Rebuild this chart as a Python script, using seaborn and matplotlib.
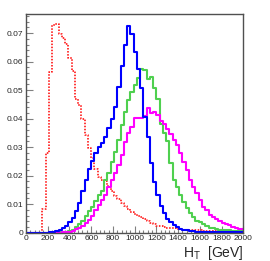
import numpy as np
import pandas as pd
import matplotlib
matplotlib.use("Agg")
import matplotlib.pyplot as plt
import seaborn as sns
from matplotlib.ticker import MultipleLocator, FuncFormatter

# Binned H_T distributions (30 GeV bins, lower edges), normalised to unit area
ht_low = np.arange(0, 2000, 30)

red_dotted = [
    0, 0, 0, 0, 0, 0.0082, 0.0279, 0.0563, 0.0728, 0.0733,
    0.0697, 0.0682, 0.0663, 0.0612, 0.0567, 0.0469, 0.0448, 0.0398, 0.0343, 0.0296,
    0.0262, 0.0222, 0.0195, 0.0185, 0.0180, 0.0165, 0.0145, 0.0130, 0.0118, 0.0103,
    0.0092, 0.0082, 0.0072, 0.0066, 0.0058, 0.0054, 0.0047, 0.0042, 0.0035, 0.0030,
    0.0025, 0.0023, 0.0020, 0.0017, 0.0016, 0.0015, 0.0013, 0.0012, 0.0011, 0.0010,
    0.0010, 0.0009, 0.0008, 0.0008, 0.0007, 0.0007, 0.0007, 0.0006, 0.0006, 0.0006,
    0.0005, 0.0005, 0.0005, 0.0005, 0.0004, 0.0004, 0.0004,
]
blue = [
    0, 0, 0, 0, 0, 0, 0, 0.0001, 0.0003, 0.0006,
    0.0010, 0.0015, 0.0024, 0.0036, 0.0052, 0.0075, 0.0105, 0.0145, 0.0185, 0.0224,
    0.0252, 0.0279, 0.0300, 0.0315, 0.0335, 0.0366, 0.0398, 0.0442, 0.0512, 0.0585,
    0.0659, 0.0726, 0.0696, 0.0635, 0.0573, 0.0507, 0.0407, 0.0335, 0.0246, 0.0179,
    0.0132, 0.0094, 0.0070, 0.0048, 0.0037, 0.0026, 0.0019, 0.0014, 0.0011, 0.0009,
    0.0007, 0.0005, 0.0004, 0.0003, 0.0003, 0.0002, 0.0002, 0.0002, 0.0001, 0.0001,
    0.0001, 0.0001, 0.0001, 0.0001, 0.0001, 0.0001, 0.0001,
]
green = [
    0, 0, 0, 0, 0, 0, 0, 0, 0, 0,
    0.0001, 0.0001, 0.0003, 0.0006, 0.0011, 0.0020, 0.0030, 0.0042, 0.0058, 0.0075,
    0.0090, 0.0112, 0.0132, 0.0148, 0.0185, 0.0208, 0.0249, 0.0284, 0.0325, 0.0378,
    0.0425, 0.0466, 0.0495, 0.0518, 0.0542, 0.0574, 0.0570, 0.0540, 0.0547, 0.0508,
    0.0468, 0.0380, 0.0349, 0.0320, 0.0245, 0.0185, 0.0161, 0.0132, 0.0109, 0.0086,
    0.0068, 0.0054, 0.0042, 0.0036, 0.0030, 0.0023, 0.0018, 0.0015, 0.0013, 0.0011,
    0.0010, 0.0009, 0.0008, 0.0007, 0.0006, 0.0006, 0.0005,
]
magenta = [
    0, 0, 0, 0, 0, 0, 0, 0, 0, 0,
    0, 0.0001, 0.0002, 0.0004, 0.0007, 0.0012, 0.0018, 0.0025, 0.0033, 0.0045,
    0.0060, 0.0078, 0.0097, 0.0115, 0.0132, 0.0161, 0.0185, 0.0208, 0.0238, 0.0273,
    0.0319, 0.0349, 0.0372, 0.0401, 0.0401, 0.0401, 0.0410, 0.0437, 0.0420, 0.0425,
    0.0413, 0.0392, 0.0380, 0.0362, 0.0345, 0.0325, 0.0308, 0.0279, 0.0249, 0.0220,
    0.0185, 0.0161, 0.0138, 0.0115, 0.0091, 0.0080, 0.0062, 0.0054, 0.0047, 0.0042,
    0.0033, 0.0030, 0.0027, 0.0019, 0.0016, 0.0013, 0.0012,
]

series = [
    (red_dotted, "#ff0000", (0, (1, 1)), 1.1),
    (green, "#4fd04f", "-", 1.5),
    (magenta, "#ff00ff", "-", 1.5),
    (blue, "#0000ff", "-", 1.5),
]

sns.set_style("ticks")
plt.rcParams["font.family"] = ["Liberation Sans", "DejaVu Sans"]
plt.rcParams["mathtext.default"] = "regular"

fig = plt.figure(figsize=(2.70, 2.61), dpi=100)
ax = fig.add_axes([0.0963, 0.1084, 0.8048, 0.8391])

for vals, col, ls, lw in series:
    df = pd.DataFrame({"ht": ht_low + 15, "w": vals})
    sns.histplot(data=df, x="ht", weights="w", binwidth=30, binrange=(0, 2010),
                 element="step", fill=False, color=col, linestyle=ls,
                 linewidth=lw, ax=ax)

ax.set_xlim(0, 2000)
ax.set_ylim(0, 0.0768)

frame_col = "#505050"
for side in ["left", "right", "top", "bottom"]:
    ax.spines[side].set_visible(True)
    ax.spines[side].set_color(frame_col)
    ax.spines[side].set_linewidth(1.0)

ax.xaxis.set_major_locator(MultipleLocator(200))
ax.xaxis.set_minor_locator(MultipleLocator(40))
ax.yaxis.set_major_locator(MultipleLocator(0.01))
ax.yaxis.set_minor_locator(MultipleLocator(0.002))
ax.yaxis.set_major_formatter(FuncFormatter(lambda v, p: "0" if abs(v) < 1e-9 else f"{v:.2f}"))
ax.xaxis.set_major_formatter(FuncFormatter(lambda v, p: f"{v:.0f}"))

ax.tick_params(which="both", direction="in", top=False, right=False,
               color="#808080", labelsize=6, pad=2)
ax.tick_params(which="major", length=4.8, width=0.8)
ax.tick_params(which="minor", length=2.4, width=0.8)

ax.set_ylabel("")
ax.set_xlabel("H$_{T}$  [GeV]", fontsize=10, loc="right", labelpad=1)

fig.savefig("out.png", dpi=100, facecolor="white")
